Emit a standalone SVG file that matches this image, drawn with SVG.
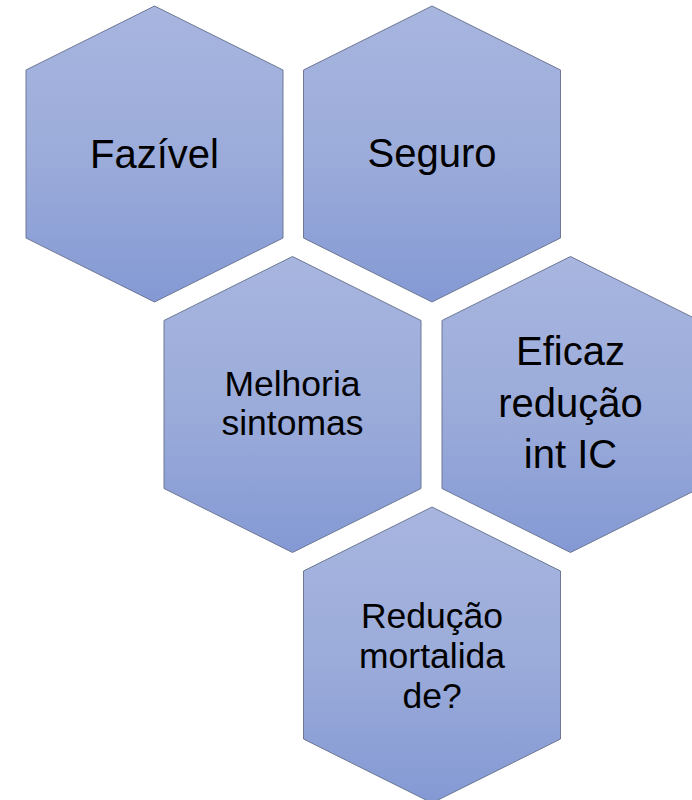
<svg xmlns="http://www.w3.org/2000/svg" width="692" height="800" viewBox="0 0 692 800">
  <defs>
    <linearGradient id="g" x1="0" y1="0" x2="0" y2="1">
      <stop offset="0" stop-color="#A7B5DF"/>
      <stop offset="0.5" stop-color="#9CACDA"/>
      <stop offset="1" stop-color="#8499D4"/>
    </linearGradient>
    <polygon id="hex" points="0,-148 128.5,-84 128.5,84 0,148 -128.5,84 -128.5,-84"/>
  </defs>
  <style>
    .hex { fill: url(#g); stroke: #6C7894; stroke-width: 1; }
    .lbl { font-family: "Liberation Sans", Arial, sans-serif; fill: #000; text-anchor: middle; }
    .big { font-size: 40px; }
    .sm { font-size: 35.5px; }
  </style>
  <rect width="692" height="800" fill="#FFFFFF"/>
  <g id="connectors"></g>
  <g id="node-fazivel" transform="translate(154.5,154)">
    <use href="#hex" class="hex"/>
    <text class="lbl big" x="0" y="14">Fazível</text>
  </g>
  <g id="node-seguro" transform="translate(432,154)">
    <use href="#hex" class="hex"/>
    <text class="lbl big" x="0" y="13">Seguro</text>
  </g>
  <g id="node-melhoria" transform="translate(292.5,404.5)">
    <use href="#hex" class="hex"/>
    <text class="lbl sm" x="0" y="-9">Melhoria</text>
    <text class="lbl sm" x="0" y="30.5">sintomas</text>
  </g>
  <g id="node-eficaz" transform="translate(570.5,404.5)">
    <use href="#hex" class="hex"/>
    <text class="lbl big" x="0" y="-39.5">Eficaz</text>
    <text class="lbl big" x="0" y="12">redução</text>
    <text class="lbl big" x="0" y="63.5">int IC</text>
  </g>
  <g id="node-reducao" transform="translate(432,655)">
    <use href="#hex" class="hex"/>
    <text class="lbl sm" x="0" y="-27">Redução</text>
    <text class="lbl sm" x="0" y="13">mortalida</text>
    <text class="lbl sm" x="0" y="53">de?</text>
  </g>
</svg>
